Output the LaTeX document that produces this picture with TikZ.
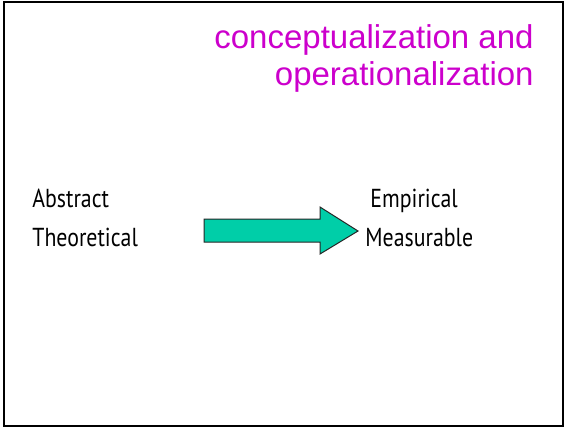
\documentclass[tikz,border=0pt]{standalone}
\usepackage{fontspec}
\setmainfont[FakeStretch=0.84]{PT Sans}
\newfontfamily\titlefont{Liberation Sans}
\usepackage{tikz}
\usetikzlibrary{positioning}
\definecolor{TitleMagenta}{RGB}{204,0,204}
\definecolor{ArrowTeal}{RGB}{0,206,168}

\begin{document}
\begin{tikzpicture}[
    x = 0.5pt, y = -0.5pt,
    ttl/.style  = {anchor=base east, inner sep=0pt, text=TitleMagenta,
                   font=\titlefont\fontsize{16.5}{20}\selectfont},
    word/.style = {anchor=base west, inner sep=0pt,
                   font=\fontsize{13}{15}\selectfont},
    blk/.style  = {draw=black!85, line width=0.5pt, fill=ArrowTeal},
  ]
  \useasboundingbox (0,0) rectangle (565,429);
  % slide frame
  \draw[line width=1pt] (3.5,2) rectangle (562.5,425.5);
  % title
  \node[ttl] (T1) at (534,48) {conceptualization and};
  \node[ttl] (T2) at (534,85) {operationalization};
  % the two sides
  \node[word] (Ab) at (32,207) {Abstract};
  \node[word] (Th) at (32,246) {Theoretical};
  \node[word] (Em) at (370,207) {Empirical};
  \node[word] (Me) at (365,246) {Measurable};
  % block arrow between them
  \draw[blk] (204,219) -- (320,219) -- (320,207) -- (358,231)
        -- (320,254) -- (320,242) -- (204,242) -- cycle;
\end{tikzpicture}
\end{document}
